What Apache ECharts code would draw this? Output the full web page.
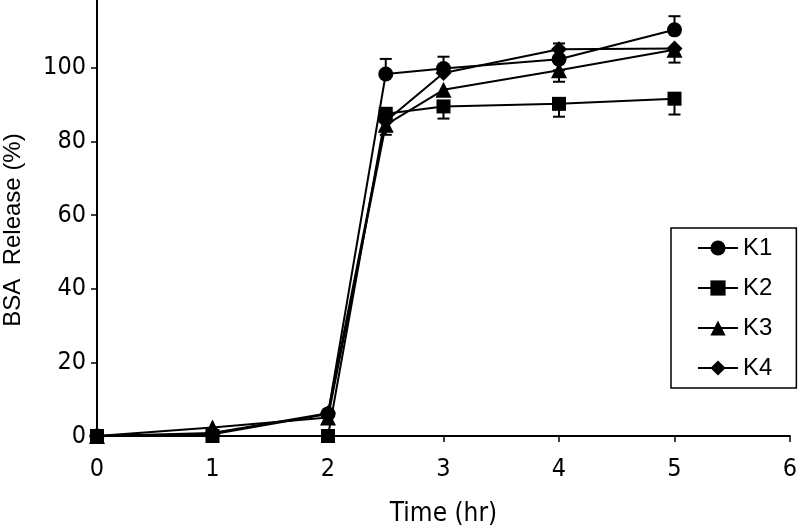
<!DOCTYPE html>
<html>
<head>
<meta charset="utf-8">
<script src="https://cdn.jsdelivr.net/npm/echarts@6/dist/echarts.min.js"></script>
<style>
html,body{margin:0;padding:0;background:#fff;}
#chart{width:799px;height:527px;}
</style>
</head>
<body>
<div id="chart"></div>
<script>
// ---- data ----
const times = [0, 1, 2, 2.5, 3, 4, 5];
const k1 = [0, 0.5, 6, 98.3, 99.8, 102.3, 110.3];
const k2 = [0, 0, 0, 87.5, 89.5, 90.2, 91.6];
const k3 = [0, 2.3, 5, 84.5, 94, 99.3, 104.9];
const k4 = [0, 0.8, 6.2, 85.5, 98.6, 105, 105.2];
// error bars: [time, low, high]
const errK1 = [[2.5, 98.3, 102.4], [3, 99.8, 103], [4, 102.3, 106.6], [5, 110.3, 114]];
const errK2 = [[2.5, 81.8, 87.5], [3, 86.2, 89.5], [4, 86.7, 90.2], [5, 87.3, 91.6]];
const errK3 = [[4, 96.2, 99.3], [5, 101.4, 104.9]];
const seriesNames = ['K1', 'K2', 'K3', 'K4'];
const yTicks = [0, 20, 40, 60, 80, 100];
const xLabel = 'Time (hr)';
const yLabel = 'BSA  Release (%)';

const FONT = "'Liberation Sans Narrow', 'Arial Narrow', 'DejaVu Sans Condensed', sans-serif";
const FONT2 = "'Liberation Sans', Arial, sans-serif";
const pair = (arr) => arr.map((v, i) => [times[i], v]);

function errSeries(data) {
  return {
    type: 'custom',
    silent: true,
    z: 1,
    data: data,
    renderItem: function (params, api) {
      const x = api.value(0);
      const lo = api.coord([x, api.value(1)]);
      const hi = api.coord([x, api.value(2)]);
      const w = 6;
      const style = { stroke: '#000', lineWidth: 2 };
      return {
        type: 'group',
        children: [
          { type: 'line', shape: { x1: lo[0], y1: lo[1], x2: hi[0], y2: hi[1] }, style: style },
          { type: 'line', shape: { x1: lo[0] - w, y1: lo[1], x2: lo[0] + w, y2: lo[1] }, style: style },
          { type: 'line', shape: { x1: hi[0] - w, y1: hi[1], x2: hi[0] + w, y2: hi[1] }, style: style }
        ]
      };
    }
  };
}

function lineSeries(name, data, symbol, size) {
  return {
    name: name,
    type: 'line',
    data: pair(data),
    symbol: symbol,
    symbolSize: size,
    z: 3,
    itemStyle: { color: '#000' },
    lineStyle: { color: '#000', width: 2 },
    emphasis: { disabled: true },
    animation: false
  };
}

const chart = echarts.init(document.getElementById('chart'), null, { renderer: 'canvas' });
chart.setOption({
  animation: false,
  backgroundColor: '#fff',
  grid: { left: 97, right: 9, top: 0, bottom: 91, containLabel: false, outerBoundsMode: 'none' },
  legend: {
    data: seriesNames,
    orient: 'vertical',
    left: 671,
    top: 228,
    itemWidth: 40,
    itemHeight: 19,
    itemGap: 16,
    padding: [8, 24, 8, 26],
    borderColor: '#000',
    borderWidth: 1.5,
    backgroundColor: '#fff',
    textStyle: { fontFamily: FONT2, fontSize: 24, color: '#000' }
  },
  xAxis: {
    type: 'value',
    min: 0, max: 6, interval: 1,
    name: xLabel,
    nameLocation: 'middle',
    nameGap: 65,
    nameTextStyle: { fontFamily: FONT, fontSize: 26, color: '#000' },
    axisLine: { show: true, lineStyle: { color: '#000', width: 2 } },
    axisTick: { show: true, inside: false, length: 6, lineStyle: { color: '#000', width: 1.5 } },
    axisLabel: { fontFamily: FONT, fontSize: 25, color: '#000', margin: 21 },
    splitLine: { show: false }
  },
  yAxis: {
    type: 'value',
    min: 0, max: 118.4,
    name: yLabel,
    nameLocation: 'middle',
    nameGap: 72,
    nameTextStyle: { fontFamily: FONT2, fontSize: 24, color: '#000', padding: [0, 24, 0, 0] },
    axisLine: { show: true, onZero: false, lineStyle: { color: '#000', width: 2 } },
    axisTick: { show: true, inside: false, length: 6, customValues: yTicks, lineStyle: { color: '#000', width: 1.5 } },
    axisLabel: { fontFamily: FONT, fontSize: 25, color: '#000', margin: 11, customValues: yTicks },
    splitLine: { show: false }
  },
  series: [
    errSeries(errK1),
    errSeries(errK2),
    errSeries(errK3),
    lineSeries('K1', k1, 'circle', 15),
    lineSeries('K2', k2, 'rect', 14),
    lineSeries('K3', k3, 'triangle', 16),
    lineSeries('K4', k4, 'diamond', 16)
  ]
});
</script>
</body>
</html>
